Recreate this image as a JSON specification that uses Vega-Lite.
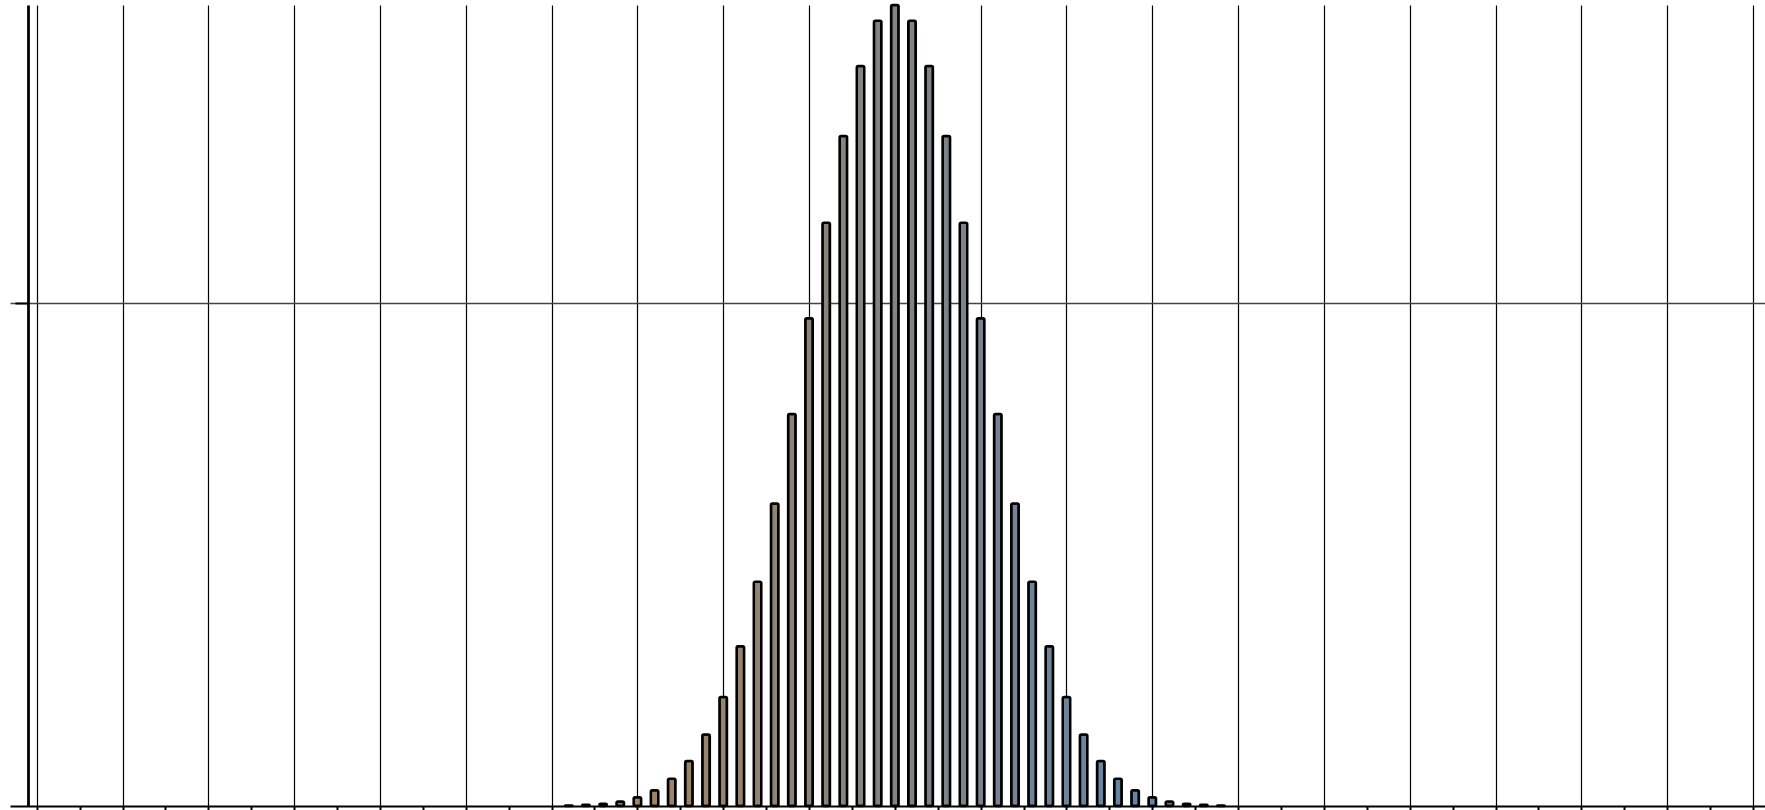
{
  "$schema": "https://vega.github.io/schema/vega-lite/v6.json",
  "autosize": {"type": "none"},
  "padding": {"left": 10, "top": 5, "right": 0, "bottom": 4},
  "width": 1755,
  "height": 801,
  "background": "white",
  "config": {"view": {"stroke": null}},
  "data": {
    "values": [
      {"k": 31, "p": 0.00005232},
      {"k": 32, "p": 0.00011282},
      {"k": 33, "p": 0.00023247},
      {"k": 34, "p": 0.00045811},
      {"k": 35, "p": 0.00086386},
      {"k": 36, "p": 0.0015597},
      {"k": 37, "p": 0.0026979},
      {"k": 38, "p": 0.0044729},
      {"k": 39, "p": 0.0071107},
      {"k": 40, "p": 0.0108438},
      {"k": 41, "p": 0.015869},
      {"k": 42, "p": 0.0222923},
      {"k": 43, "p": 0.0300686},
      {"k": 44, "p": 0.0389526},
      {"k": 45, "p": 0.0484743},
      {"k": 46, "p": 0.0579584},
      {"k": 47, "p": 0.0665905},
      {"k": 48, "p": 0.073527},
      {"k": 49, "p": 0.0780286},
      {"k": 50, "p": 0.0795892},
      {"k": 51, "p": 0.0780286},
      {"k": 52, "p": 0.073527},
      {"k": 53, "p": 0.0665905},
      {"k": 54, "p": 0.0579584},
      {"k": 55, "p": 0.0484743},
      {"k": 56, "p": 0.0389526},
      {"k": 57, "p": 0.0300686},
      {"k": 58, "p": 0.0222923},
      {"k": 59, "p": 0.015869},
      {"k": 60, "p": 0.0108438},
      {"k": 61, "p": 0.0071107},
      {"k": 62, "p": 0.0044729},
      {"k": 63, "p": 0.0026979},
      {"k": 64, "p": 0.0015597},
      {"k": 65, "p": 0.00086386},
      {"k": 66, "p": 0.00045811},
      {"k": 67, "p": 0.00023247},
      {"k": 68, "p": 0.00011282},
      {"k": 69, "p": 0.00005232}
    ]
  },
  "mark": {"type": "bar", "width": 7.5, "stroke": "black", "strokeWidth": 2.5, "cornerRadius": 1.5, "clip": false},
  "encoding": {
    "x": {
      "field": "k",
      "type": "quantitative",
      "scale": {"domain": [-1.556, 100.7], "nice": false, "zero": false, "padding": 0},
      "axis": {
        "values": [0, 2.5, 5, 7.5, 10, 12.5, 15, 17.5, 20, 22.5, 25, 27.5, 30, 32.5, 35, 37.5, 40, 42.5, 45, 47.5, 50, 52.5, 55, 57.5, 60, 62.5, 65, 67.5, 70, 72.5, 75, 77.5, 80, 82.5, 85, 87.5, 90, 92.5, 95, 97.5, 100],
        "labels": false,
        "title": null,
        "domainColor": "black",
        "domainWidth": 2.2,
        "tickColor": "black",
        "tickWidth": 2,
        "tickSize": 11,
        "grid": true,
        "gridColor": "#000000",
        "gridWidth": 1.2,
        "gridOpacity": {"condition": {"test": "datum.value % 5 === 0", "value": 1}, "value": 0},
        "encode": {
          "ticks": {
            "update": {
              "y": {"signal": "datum.value % 5 === 0 ? -11 : -8"},
              "y2": {"signal": "datum.value % 5 === 0 ? 14 : 10"}
            }
          }
        }
      }
    },
    "y": {
      "field": "p",
      "type": "quantitative",
      "scale": {"domain": [0, 0.0796], "nice": false, "zero": true, "padding": 0},
      "axis": {
        "values": [0.05],
        "labels": false,
        "title": null,
        "offset": -18,
        "domainColor": "black",
        "domainWidth": 2.8,
        "tickColor": "black",
        "tickWidth": 2,
        "tickSize": 13,
        "grid": true,
        "gridColor": "#444444",
        "gridWidth": 1.5,
        "encode": {
          "ticks": {"update": {"x": {"value": 13}, "x2": {"value": -13}}},
          "domain": {"update": {"y2": {"value": -5}}}
        }
      }
    },
    "color": {
      "field": "k",
      "type": "quantitative",
      "scale": {"domain": [30, 50, 70], "range": ["#a8845a", "#838383", "#5a84b4"], "interpolate": "rgb"},
      "legend": null
    }
  }
}
